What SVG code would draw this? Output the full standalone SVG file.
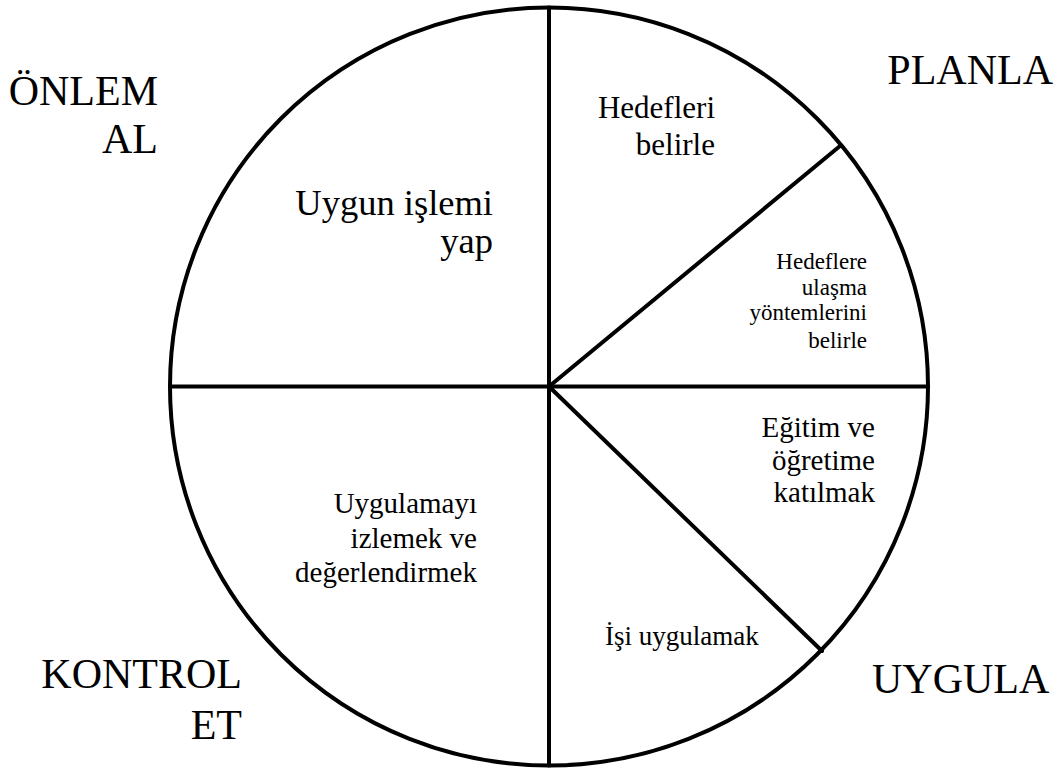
<svg xmlns="http://www.w3.org/2000/svg" width="1059" height="769" viewBox="0 0 1059 769">
<style>
  .line { stroke: #000; stroke-width: 4; fill: none; stroke-linecap: round; }
</style>
<rect width="1059" height="769" fill="#fff"/>
<g id="wheel">
  <circle class="line" cx="549" cy="386.5" r="379"/>
</g>
<g id="connectors">
  <line class="line" x1="549" y1="7.5" x2="549" y2="765.5"/>
  <line class="line" x1="170" y1="386.5" x2="928" y2="386.5"/>
  <line class="line" x1="549" y1="386.5" x2="840" y2="146"/>
  <line class="line" x1="549" y1="386.5" x2="822" y2="651"/>
</g>
<g id="label-onlem" text-anchor="end">
  <text x="158" y="105" font-size="42" font-family="'Liberation Serif'">&#214;NLEM</text>
  <text x="158" y="153" font-size="42" font-family="'Liberation Serif'">AL</text>
</g>
<g id="label-planla" text-anchor="end">
  <text x="1053" y="84" font-size="42" font-family="'Liberation Serif'">PLANLA</text>
</g>
<g id="label-kontrol" text-anchor="end">
  <text x="242" y="688" font-size="42" font-family="'Liberation Serif'">KONTROL</text>
  <text x="242" y="739" font-size="42" font-family="'Liberation Serif'">ET</text>
</g>
<g id="label-uygula">
  <text x="872" y="693" font-size="42" font-family="'Liberation Serif'">UYGULA</text>
</g>
<g id="seg-uygun" text-anchor="end">
  <text x="493" y="215" font-size="36.5" font-family="'Liberation Serif'">Uygun i&#351;lemi</text>
  <text x="493" y="253" font-size="36.5" font-family="'Liberation Serif'">yap</text>
</g>
<g id="seg-hedefleri" text-anchor="end">
  <text x="715" y="118" font-size="31" font-family="'Liberation Serif'">Hedefleri</text>
  <text x="715" y="155" font-size="31" font-family="'Liberation Serif'">belirle</text>
</g>
<g id="seg-hedeflere" text-anchor="end">
  <text x="867" y="269" font-size="23" font-family="'Liberation Serif'">Hedeflere</text>
  <text x="867" y="295" font-size="23" font-family="'Liberation Serif'">ula&#351;ma</text>
  <text x="867" y="320" font-size="23" font-family="'Liberation Serif'">y&#246;ntemlerini</text>
  <text x="867" y="348" font-size="23" font-family="'Liberation Serif'">belirle</text>
</g>
<g id="seg-egitim" text-anchor="end">
  <text x="875" y="437" font-size="29" font-family="'Liberation Serif'">E&#287;itim ve</text>
  <text x="875" y="470" font-size="29" font-family="'Liberation Serif'">&#246;&#287;retime</text>
  <text x="875" y="502" font-size="29" font-family="'Liberation Serif'">kat&#305;lmak</text>
</g>
<g id="seg-isi">
  <text x="605" y="645" font-size="27" font-family="'Liberation Serif'">&#304;&#351;i uygulamak</text>
</g>
<g id="seg-uygulamayi" text-anchor="end">
  <text x="477" y="513" font-size="29" font-family="'Liberation Serif'">Uygulamay&#305;</text>
  <text x="477" y="548" font-size="29" font-family="'Liberation Serif'">izlemek ve</text>
  <text x="477" y="582" font-size="29" font-family="'Liberation Serif'">de&#287;erlendirmek</text>
</g>
</svg>
